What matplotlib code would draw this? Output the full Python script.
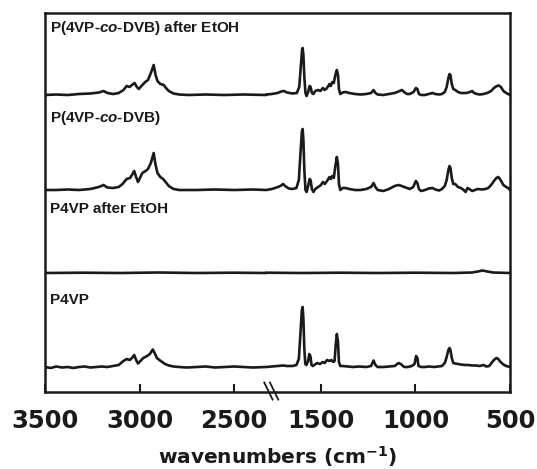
"""
FTIR spectra of P4VP and P(4VP-co-DVB), before and after the EtOH rinse,
stacked on a broken wavenumber axis (3500-2330 | 1790-500 cm^-1).
"""
import numpy as np
import matplotlib
matplotlib.use("Agg")
import matplotlib.pyplot as plt
import matplotlib.transforms as mtransforms

plt.rcParams["mathtext.fontset"] = "custom"
plt.rcParams["mathtext.rm"] = "DejaVu Sans:bold"
plt.rcParams["mathtext.it"] = "Liberation Sans:italic:bold"

# ---------------------------------------------------------------------------
# Spectra: wavenumber (cm^-1) and absorbance (arb. units above each baseline)
# ---------------------------------------------------------------------------
dvb_etoh_wn = [3500, 3440, 3380, 3320, 3260, 3215, 3190, 3170, 3140, 3110, 3085, 3068, 3052,
               3040, 3026, 3014, 3004, 2990, 2970, 2955, 2940, 2925, 2915, 2905, 2890, 2872,
               2860, 2845, 2820, 2790, 2740, 2650, 2550, 2450, 2330,
               1790, 1760, 1730, 1710, 1695, 1680, 1650, 1628, 1615, 1607, 1600, 1597, 1593,
               1588, 1582, 1576, 1568, 1560, 1555, 1548, 1540, 1530, 1515, 1503, 1490, 1480,
               1468, 1455, 1448, 1440, 1432, 1424, 1416, 1410, 1405, 1398, 1385, 1370, 1350,
               1320, 1290, 1260, 1235, 1222, 1212, 1200, 1170, 1140, 1110, 1090, 1072, 1060,
               1045, 1030, 1010, 998, 990, 982, 970, 950, 930, 910, 895, 875, 860, 845, 835,
               826, 820, 815, 808, 800, 790, 775, 760, 745, 730, 712, 700, 690, 675, 660, 640,
               620, 600, 585, 570, 560, 548, 535, 520, 510, 500]
dvb_etoh_abs = [0, 0.5, 0, 1, 1.5, 2.5, 4, 2, 1, 2, 5, 9, 8,
                10, 12, 8, 6, 9, 13, 15, 22, 30, 20, 14, 11, 10,
                7, 4, 1.5, 0.5, 0, 0.5, 0, 0.5, 0,
                0.5, 1, 2, 3.5, 4, 2.5, 1.5, 2, 8, 28, 45, 47, 40,
                18, 2, -1, 3, 9, 8, 2, 1, 4, 5, 4, 7, 5,
                7, 11, 9, 13, 12, 20, 25, 20, 6, 1, 2.5, 3, 2,
                1, 0.5, 1, 2, 5, 2, 0.5, 0, 1, 2, 3.5, 5, 3,
                1, 1, 3, 7, 6, 1, 0, 0, 1, 2, 1, 0.5, 1, 3, 8,
                17, 21, 20, 11, 6, 5, 3, 2, 2, 2, 3, 4, 2, 1, 0.5, 1,
                2, 4, 7, 9, 9.5, 8, 4, 2, 1, 0]

dvb_wn = [3500, 3440, 3380, 3320, 3260, 3215, 3190, 3170, 3140, 3110, 3090, 3068, 3050,
          3040, 3028, 3018, 3008, 2998, 2985, 2968, 2955, 2940, 2925, 2916, 2905, 2890,
          2875, 2862, 2845, 2820, 2790, 2700, 2600, 2500, 2400, 2330,
          1790, 1760, 1735, 1715, 1700, 1690, 1670, 1650, 1630, 1617, 1609, 1601, 1597,
          1593, 1588, 1582, 1576, 1568, 1560, 1555, 1548, 1540, 1530, 1515, 1500, 1490,
          1480, 1468, 1455, 1448, 1440, 1432, 1424, 1416, 1410, 1405, 1398, 1385, 1370,
          1350, 1320, 1290, 1260, 1235, 1222, 1212, 1200, 1170, 1140, 1110, 1090, 1072,
          1060, 1045, 1030, 1012, 998, 990, 982, 970, 950, 930, 910, 895, 875, 860, 845,
          835, 826, 820, 815, 808, 800, 790, 775, 760, 745, 735, 725, 715, 700, 685, 670,
          650, 630, 615, 600, 585, 572, 562, 550, 535, 520, 510, 500]
dvb_abs = [0, 0, 0.5, 0, 1, 3, 5, 2.5, 2, 3, 6, 11, 12,
           15, 19, 13, 8, 12, 17, 19, 21, 27, 37, 26, 17, 13,
           11, 8, 4, 1, 0, 0, 0.5, 0, 0.5, 0,
           0, 1, 2.5, 4, 6, 4, 1.5, 1, 2, 10, 35, 58, 61,
           50, 20, 0, -2, 4, 11, 10, 1, -2, 1, 3, 5, 8,
           6, 9, 13, 11, 14, 12, 24, 33, 26, 6, 0, 2, 2,
           1, 0, 0, 1, 3, 7, 3, 0, -1, 1, 4, 5, 4,
           3, 2, 1, 3, 9, 7, 1, -1, 0, 1.5, 2, 0.5, -0.5, 1, 4,
           10, 20, 24, 22, 12, 6, 6, 3, 2, 0, -2, 2, 1, -1, 0, 1,
           0.5, 1, 2, 5, 9, 12, 13, 10, 5, 3, 2, 0]

p4vp_etoh_wn = [3500, 3300, 3100, 2900, 2700, 2500, 2330,
                1790, 1600, 1400, 1200, 1000, 800, 700, 670, 645, 620, 590, 500]
p4vp_etoh_abs = [0, 0.3, 0, 0.5, 0, 0.3, 0,
                 0.3, 0, 0.3, 0, 0.3, 0, 0.5, 1.5, 2.5, 1.5, 0.5, 0]

p4vp_wn = [3500, 3470, 3440, 3410, 3380, 3350, 3320, 3290, 3260, 3230, 3200, 3170, 3140,
           3110, 3085, 3068, 3052, 3040, 3028, 3018, 3008, 2995, 2980, 2960, 2945, 2930,
           2920, 2908, 2895, 2880, 2865, 2845, 2820, 2790, 2750, 2700, 2650, 2600, 2550,
           2500, 2450, 2400, 2330,
           1790, 1760, 1730, 1700, 1680, 1650, 1630, 1617, 1609, 1601, 1597, 1593, 1588,
           1583, 1577, 1568, 1562, 1556, 1550, 1543, 1535, 1520, 1505, 1490, 1480, 1468,
           1455, 1445, 1435, 1428, 1422, 1416, 1410, 1405, 1398, 1385, 1360, 1330, 1300,
           1260, 1235, 1222, 1212, 1200, 1170, 1140, 1110, 1090, 1078, 1060, 1040, 1020,
           1005, 997, 990, 984, 970, 950, 930, 900, 880, 860, 845, 835, 826, 820, 815, 808,
           800, 790, 775, 760, 740, 720, 700, 680, 660, 640, 625, 610, 598, 585, 572, 562,
           550, 535, 520, 500]
p4vp_abs = [0, -1, 0.5, -0.5, 0, -1, 0, 0.5, -0.5, 0, 0.5, 0, 1,
            2, 6, 8, 7, 9, 12, 7, 3.5, 6, 9, 11, 13, 17.5,
            14, 9, 7, 5, 3, 1.5, 0.5, 0, -0.5, 0, 0.5, -0.5, 0,
            0.5, 0, -0.5, 0,
            0, 0.5, 1, 1.5, 1, 1, 2, 8, 32, 57, 60, 48, 18,
            3, 2, 6, 13, 11, 2, 1, 2, 4, 3, 5, 4, 7,
            6, 7, 5, 6, 22, 33, 25, 5, 1, 1, 0.5, 0, 0.5,
            0, 1, 6.5, 2, 0, 0, 0.5, 1, 4, 3, 0, 0, 1,
            3, 11, 9, 1, 0, 0, 0.5, 0, 0.5, 1, 4, 10, 17, 19, 17, 9,
            4, 3.5, 3, 2.5, 2, 2, 1.5, 1.5, 1, 2, 0.5, 1, 4, 7, 9, 8,
            5, 2.5, 1, 0]

names = [r"P(4VP-$co$-DVB) after EtOH", r"P(4VP-$co$-DVB)", "P4VP after EtOH", "P4VP"]
spectra = [(dvb_etoh_wn, dvb_etoh_abs), (dvb_wn, dvb_abs),
           (p4vp_etoh_wn, p4vp_etoh_abs), (p4vp_wn, p4vp_abs)]
offsets = [297, 202, 119, 25]
label_y = [364, 274, 183, 92]

tick_wn = [3500, 3000, 2500, 1500, 1000, 500]

# broken axis: everything below the gap is shifted up by GAP so it sits
# right after 2330 cm^-1 on one continuous scale
GAP = 540
BREAK_HI = 2330


def to_axis(w):
    w = np.asarray(w, float)
    return np.where(w >= 2000, w, w + GAP)


fig = plt.figure(figsize=(5.37, 4.69), dpi=100)
ax = fig.add_axes([45 / 537, 1 - 392 / 469, 465 / 537, 379 / 469])

for (wn, a), off, name, ly in zip(spectra, offsets, names, label_y):
    ax.plot(to_axis(wn), np.asarray(a) + off, color="#1a1a1a", lw=1.9,
            solid_joinstyle="round")
    ax.text(3473, ly, name, fontsize=11, fontweight="bold", family="Liberation Sans",
            ha="left", va="center", color="#1a1a1a")

ax.set_xlim(3500, 500 + GAP)
ax.set_ylim(0, 379)
ax.set_yticks([])
ax.set_xticks(to_axis(tick_wn))
ax.set_xticklabels([str(t) for t in tick_wn], fontsize=17.5, fontweight="bold",
                   family="DejaVu Sans", color="#1a1a1a")
ax.tick_params(axis="x", direction="in", length=6, width=1.5, pad=12, colors="#1a1a1a")
for sp in ax.spines.values():
    sp.set_linewidth(1.8)
    sp.set_color("#1a1a1a")

ax.set_xlabel(r"wavenumbers (cm$^{-1}$)", fontsize=14.5, fontweight="bold",
              family="DejaVu Sans", color="#1a1a1a", labelpad=8)

# "//" break mark on the bottom axis
trans = mtransforms.blended_transform_factory(ax.transData, ax.transAxes)
for xb in (BREAK_HI - 12, BREAK_HI - 42):
    ax.plot([xb + 22, xb - 22], [0.025, -0.02], transform=trans, color="#1a1a1a",
            lw=1.3, clip_on=False)

fig.savefig("out.png", dpi=100)
